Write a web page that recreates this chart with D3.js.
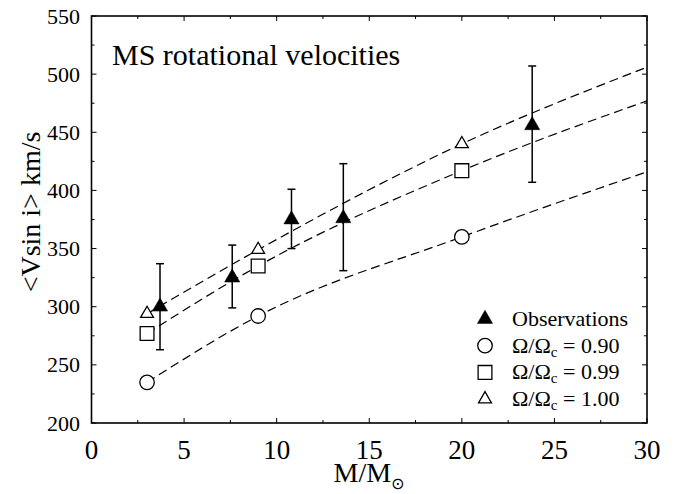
<!DOCTYPE html>
<html><head><meta charset="utf-8">
<script src="https://cdn.jsdelivr.net/npm/d3@7"></script>
<style>html,body{margin:0;padding:0;background:#fff;}svg{display:block;}</style>
</head><body>
<svg id="c" width="677" height="494"></svg>
<script>
// ---- data ----
const xTicks = [0, 5, 10, 15, 20, 25, 30];
const yTicks = [200, 250, 300, 350, 400, 450, 500, 550];
const obsMass = [3.7, 7.6, 10.8, 13.6, 23.8];
const obsV    = [300, 325, 375, 376, 456];
const obsLo   = [263, 299, 350, 331, 407];
const obsHi   = [337, 353, 401, 423, 507];
const modelMass = [3, 9, 20];
const v090 = [235, 292, 360];
const v099 = [277, 335, 417];
const v100 = [294, 349, 440];
const curveMass = [3, 9, 20, 30];
const curve090 = [235, 292, 360, 416];
const curve099 = [277, 335, 417, 477];
const curve100 = [294, 349, 440, 506];
const legendLabels = ["Observations", "0.90", "0.99", "1.00"];

// ---- layout ----
const L = 91.5, R = 647, T = 16, B = 423;
const font = "'Liberation Serif','Times New Roman',serif";
const svg = d3.select("#c");
const x = d3.scaleLinear().domain([0, 30]).range([L, R]);
const y = d3.scaleLinear().domain([200, 550]).range([B, T]);

// ticks (inward on all four sides)
const g = svg.append("g");
const xMinor = d3.range(0, 30.01, 2.5);
const yMinor = d3.range(200, 550.01, 25);
xMinor.forEach(v => {
  const len = (v % 5 === 0) ? 5 : 3;
  g.append("line").attr("x1", x(v)).attr("x2", x(v)).attr("y1", B).attr("y2", B - len).attr("stroke", "#000").attr("stroke-width", 1);
  g.append("line").attr("x1", x(v)).attr("x2", x(v)).attr("y1", T).attr("y2", T + len).attr("stroke", "#000").attr("stroke-width", 1);
});
yMinor.forEach(v => {
  const len = (v % 50 === 0) ? 5 : 3;
  g.append("line").attr("y1", y(v)).attr("y2", y(v)).attr("x1", L).attr("x2", L + len).attr("stroke", "#000").attr("stroke-width", 1);
  g.append("line").attr("y1", y(v)).attr("y2", y(v)).attr("x1", R).attr("x2", R - len).attr("stroke", "#000").attr("stroke-width", 1);
});
// frame
svg.append("rect").attr("x", L).attr("y", T).attr("width", R - L).attr("height", B - T)
  .attr("fill", "none").attr("stroke", "#000").attr("stroke-width", 1.6);

// tick labels
svg.selectAll(".xt").data(xTicks).enter().append("text")
  .attr("x", d => x(d)).attr("y", 459).attr("text-anchor", "middle")
  .attr("font-family", font).attr("font-size", 27).text(d => d);
svg.selectAll(".yt").data(yTicks).enter().append("text")
  .attr("x", 80).attr("y", d => y(d) + 7.5).attr("text-anchor", "end")
  .attr("font-family", font).attr("font-size", 22).text(d => d);

// axis titles
const xt = svg.append("text").attr("x", 369).attr("y", 482).attr("text-anchor", "middle")
  .attr("font-family", font).attr("font-size", 28);
xt.append("tspan").text("M/M");
xt.append("tspan").attr("dy", 7).attr("font-size", 16).attr("font-family", "'DejaVu Sans',sans-serif").text("\u2299");
svg.append("text").attr("transform", "translate(40,212) rotate(-90)")
  .attr("text-anchor", "middle").attr("font-family", font).attr("font-size", 28)
  .text("<Vsin i> km/s");

// title
svg.append("text").attr("x", 112).attr("y", 65).attr("font-family", font).attr("font-size", 30)
  .text("MS rotational velocities");

// dashed model curves
const line = d3.line().x(d => x(d[0])).y(d => y(d[1])).curve(d3.curveMonotoneX);
[curve090, curve099, curve100].forEach(arr => {
  svg.append("path").datum(curveMass.map((m, i) => [m, arr[i]]))
    .attr("d", line).attr("fill", "none").attr("stroke", "#000")
    .attr("stroke-width", 1.2).attr("stroke-dasharray", "9,5");
});

// error bars
obsMass.forEach((m, i) => {
  svg.append("line").attr("x1", x(m)).attr("x2", x(m)).attr("y1", y(obsLo[i])).attr("y2", y(obsHi[i]))
    .attr("stroke", "#000").attr("stroke-width", 1.5);
  [obsLo[i], obsHi[i]].forEach(v => {
    svg.append("line").attr("x1", x(m) - 4).attr("x2", x(m) + 4).attr("y1", y(v)).attr("y2", y(v))
      .attr("stroke", "#000").attr("stroke-width", 1.5);
  });
});

const symFilledTri = d3.symbol().type(d3.symbolTriangle).size(100);
const symOpenTri = d3.symbol().type(d3.symbolTriangle).size(72);
const symCircle = d3.symbol().type(d3.symbolCircle).size(165);
const symSquare = d3.symbol().type(d3.symbolSquare).size(190);

function drawSym(sym, px, py, filled) {
  svg.append("path").attr("d", sym()).attr("transform", `translate(${px},${py})`)
    .attr("fill", filled ? "#000" : "#fff").attr("stroke", "#000").attr("stroke-width", filled ? 0.5 : 1.3);
}

// model points
modelMass.forEach((m, i) => {
  drawSym(symCircle, x(m), y(v090[i]), false);
  drawSym(symSquare, x(m), y(v099[i]), false);
  drawSym(symOpenTri, x(m), y(v100[i]), false);
});
// observations
obsMass.forEach((m, i) => drawSym(symFilledTri, x(m), y(obsV[i]), true));

// legend
const lgX = 485, lgTextX = 512, lgY0 = 326, lgDy = 26.7;
const syms = [[symFilledTri, true], [symCircle, false], [symSquare, false], [symOpenTri, false]];
legendLabels.forEach((lab, i) => {
  const by = lgY0 + i * lgDy;
  drawSym(syms[i][0], lgX, by - 7, syms[i][1]);
  const t = svg.append("text").attr("x", lgTextX).attr("y", by).attr("font-family", font).attr("font-size", 22);
  if (i === 0) { t.text(lab); }
  else {
    t.append("tspan").text("\u03A9/\u03A9");
    t.append("tspan").attr("dy", 4).attr("font-size", 15).text("c");
    t.append("tspan").attr("dy", -4).text(" = " + lab);
  }
});
</script>
</body></html>
